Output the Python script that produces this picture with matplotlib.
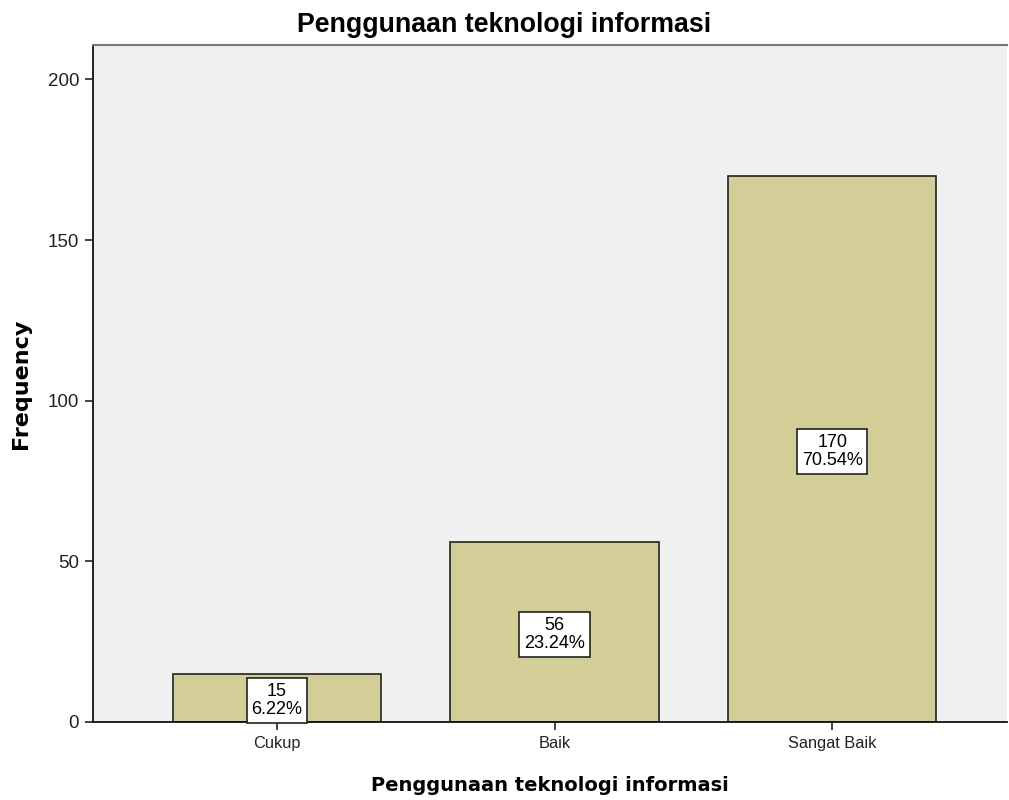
import matplotlib
matplotlib.use("Agg")
import matplotlib.pyplot as plt
import numpy as np

categories = ["Cukup", "Baik", "Sangat Baik"]
counts = [15, 56, 170]
percents = ["6.22%", "23.24%", "70.54%"]
yticks = [0, 50, 100, 150, 200]

fig = plt.figure(figsize=(10.09, 8.0), dpi=100)
ax = fig.add_axes([93/1009, 78/800, (1007-93)/1009, (722-45)/800])
ax.set_facecolor("#F0F0F0")

x = np.arange(len(categories))
ax.bar(x, counts, width=0.75, color="#D3CE98", edgecolor="#222222", linewidth=1.2, zorder=2)

for xi, c, p in zip(x, counts, percents):
    ax.text(xi, c / 2 - 0.8, f"{c}\n{p}", ha="center", va="center", fontsize=13,
            family="Liberation Sans", linespacing=1.08, zorder=3,
            bbox=dict(boxstyle="square,pad=0.27", facecolor="white", edgecolor="#222222", linewidth=1.2))

ax.set_xlim(-0.663, 2.63)
ax.set_ylim(0, 210.7)
ax.set_xticks(x)
ax.set_xticklabels(categories, family="Liberation Sans", fontsize=11.8, color="#222222")
ax.set_yticks(yticks)
ax.set_yticklabels([str(t) for t in yticks], family="Liberation Sans", fontsize=13.5, color="#222222")
ax.tick_params(axis="both", direction="out", length=6, width=1.2, color="#222222", pad=4)

for s in ["left", "bottom"]:
    ax.spines[s].set_color("#111111")
    ax.spines[s].set_linewidth(1.3)
ax.spines["top"].set_color("#777777")
ax.spines["top"].set_linewidth(1.5)
ax.spines["right"].set_visible(False)

ax.set_xlabel("Penggunaan teknologi informasi", family="DejaVu Sans", fontweight="bold", fontsize=14, labelpad=18)
ax.set_ylabel("Frequency", family="DejaVu Sans", fontweight="bold", fontsize=16, labelpad=12)
fig.text(504.5/1009, 1 - 25/800, "Penggunaan teknologi informasi", ha="center", va="center",
         family="Liberation Sans", fontweight="bold", fontsize=19.3)

fig.savefig("out.png", dpi=100)
